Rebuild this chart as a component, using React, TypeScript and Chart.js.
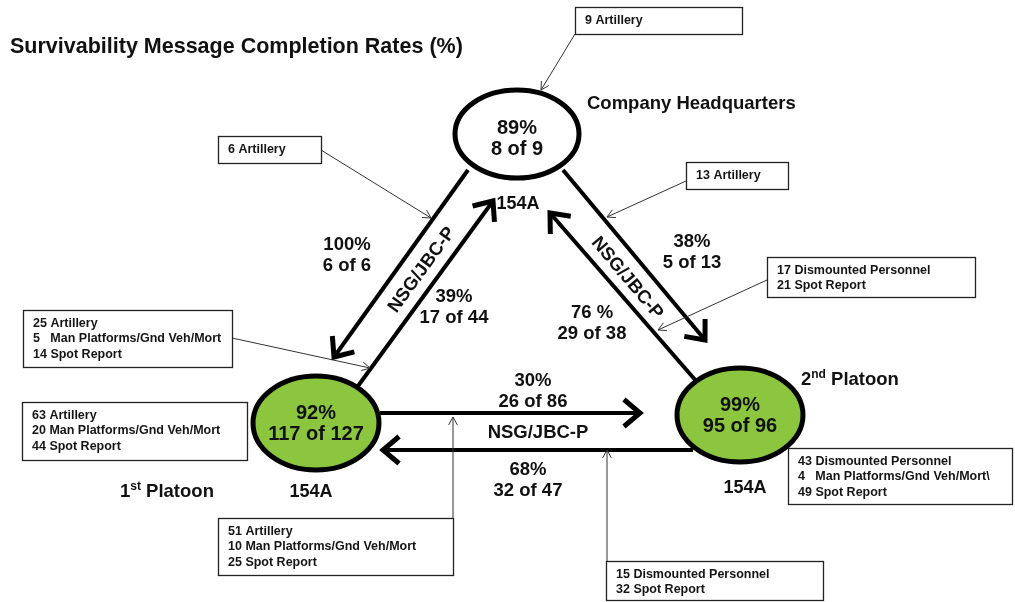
import React, { useEffect, useRef } from 'react';
import { Chart, registerables } from 'chart.js';

Chart.register(...registerables);

// ---------------- DATA ----------------
const TITLE = 'Survivability Message Completion Rates (%)';

const nodeNames = ['Company Headquarters', '1st Platoon', '2nd Platoon'];
const nodeRates = [89, 92, 99];
const nodeDone = [8, 117, 95];
const nodeTotal = [9, 127, 96];
const nodeCodes = ['154A', '154A', '154A'];

const linkFrom = [0, 1, 0, 2, 1, 2];
const linkTo = [1, 0, 2, 0, 2, 1];
const linkRateLabels = ['100%', '39%', '38%', '76 %', '30%', '68%'];
const linkDone = [6, 17, 5, 29, 26, 32];
const linkTotal = [6, 44, 13, 38, 86, 47];
const linkNetwork = 'NSG/JBC-P';

const noteLines: string[][] = [
  ['9 Artillery'],
  ['6 Artillery'],
  ['13 Artillery'],
  ['17 Dismounted Personnel', '21 Spot Report'],
  ['25 Artillery', '5   Man Platforms/Gnd Veh/Mort', '14 Spot Report'],
  ['63 Artillery', '20 Man Platforms/Gnd Veh/Mort', '44 Spot Report'],
  ['51 Artillery', '10 Man Platforms/Gnd Veh/Mort', '25 Spot Report'],
  ['15 Dismounted Personnel', '32 Spot Report'],
  ['43 Dismounted Personnel', '4   Man Platforms/Gnd Veh/Mort\\', '49 Spot Report'],
];

// ---------------- LAYOUT (diagram coordinates) ----------------
const W = 1015;
const H = 602;
const nodeCenters = [[517, 134], [316, 423], [740, 415]];
const nodeRadii = [[62, 44], [63, 47], [63, 47]];
const nodeFills = ['#ffffff', '#8cc63f', '#8cc63f'];
const nodeNamePos = [[587, 104], [120, 492], [801, 380]];
const nodeCodePos = [[518, 204], [311, 492], [745, 488]];
const linkPaths = [
  [468, 170, 334, 357],
  [358, 386, 493, 201],
  [563, 170, 705, 340],
  [697, 382, 550, 213],
  [380, 413, 640, 413],
  [693, 450, 383, 450],
];
const linkLabelPos = [[347, 245], [454, 297], [692, 242], [592, 313], [533, 381], [528, 470]];
const networkLabelPos = [[422, 270, -54], [627, 278, 50], [538, 433, 0]];
const noteBoxes = [
  [575, 7, 742, 34],
  [218, 136, 321, 163],
  [686, 162, 788, 189],
  [767, 257, 975, 297],
  [23, 310, 232, 367],
  [22, 402, 247, 460],
  [218, 518, 453, 575],
  [606, 561, 823, 600],
  [788, 448, 1012, 504],
];
const noteLeaders: (number[] | null)[] = [
  [575, 34, 541, 90],
  [321, 150, 431, 218],
  [686, 181, 607, 217],
  [767, 280, 658, 330],
  [232, 338, 370, 368],
  null,
  [453, 518, 453, 417],
  [607, 561, 607, 450],
  null,
];

const FONT = '"Liberation Sans", Arial, sans-serif';

function drawChevron(ctx: CanvasRenderingContext2D, x0: number, y0: number, x1: number, y1: number, len: number, ang: number, lw: number, color: string) {
  const a = Math.atan2(y1 - y0, x1 - x0);
  ctx.save();
  ctx.strokeStyle = color;
  ctx.lineWidth = lw;
  ctx.lineJoin = 'miter';
  ctx.lineCap = 'butt';
  ctx.beginPath();
  ctx.moveTo(x1 - len * Math.cos(a - ang), y1 - len * Math.sin(a - ang));
  ctx.lineTo(x1, y1);
  ctx.lineTo(x1 - len * Math.cos(a + ang), y1 - len * Math.sin(a + ang));
  ctx.stroke();
  ctx.restore();
}

const diagramPlugin = {
  id: 'diagram',
  afterDatasetsDraw(chart: any) {
    const ctx: CanvasRenderingContext2D = chart.ctx;
    const sx = chart.scales.x;
    const sy = chart.scales.y;
    const X = (v: number) => sx.getPixelForValue(v);
    const Y = (v: number) => sy.getPixelForValue(v);

    // arrowheads of links
    linkPaths.forEach((p) => {
      drawChevron(ctx, X(p[0]), Y(p[1]), X(p[2]), Y(p[3]), 21, 0.7, 5, '#000');
    });
    // arrowheads of leaders
    noteLeaders.forEach((p) => {
      if (!p) return;
      drawChevron(ctx, X(p[0]), Y(p[1]), X(p[2]), Y(p[3]), 9, 0.5, 1, '#333');
    });

    // nodes
    nodeCenters.forEach((c, i) => {
      const cx = X(c[0]);
      const cy = Y(c[1]);
      const rx = Math.abs(X(c[0] + nodeRadii[i][0]) - cx);
      const ry = Math.abs(Y(c[1] + nodeRadii[i][1]) - cy);
      ctx.save();
      ctx.beginPath();
      ctx.ellipse(cx, cy, rx, ry, 0, 0, Math.PI * 2);
      ctx.fillStyle = nodeFills[i];
      ctx.fill();
      ctx.lineWidth = 5;
      ctx.strokeStyle = '#000';
      ctx.stroke();
      ctx.fillStyle = '#111';
      ctx.font = `bold 20px ${FONT}`;
      ctx.textAlign = 'center';
      ctx.textBaseline = 'middle';
      const textTop = i === 0 ? -6 : -10;
      ctx.fillText(`${nodeRates[i]}%`, cx, cy + textTop);
      ctx.fillText(`${nodeDone[i]} of ${nodeTotal[i]}`, cx, cy + textTop + 21);
      ctx.restore();
    });

    // note boxes
    noteBoxes.forEach((b, i) => {
      const x0 = X(b[0]);
      const y0 = Y(b[1]);
      const x1 = X(b[2]);
      const y1 = Y(b[3]);
      ctx.save();
      ctx.fillStyle = '#fff';
      ctx.fillRect(x0, y0, x1 - x0, y1 - y0);
      ctx.strokeStyle = '#222';
      ctx.lineWidth = 1.3;
      ctx.strokeRect(x0 + 0.5, y0 + 0.5, x1 - x0, y1 - y0);
      ctx.fillStyle = '#151515';
      ctx.font = `bold 12.5px ${FONT}`;
      ctx.textAlign = 'left';
      ctx.textBaseline = 'middle';
      noteLines[i].forEach((t, k) => {
        ctx.fillText(t, x0 + 10, y0 + 13.5 + k * 15.5);
      });
      ctx.restore();
    });

    ctx.save();
    ctx.fillStyle = '#111';
    ctx.textBaseline = 'middle';

    // title
    ctx.font = `bold 21.5px ${FONT}`;
    ctx.textAlign = 'left';
    ctx.fillText(TITLE, X(10), Y(47));

    // node names
    nodeNames.forEach((name, i) => {
      const [x, y] = nodeNamePos[i];
      const m = name.match(/^(\d)(st|nd|rd|th)(.*)$/);
      if (m) {
        ctx.font = `bold 18.5px ${FONT}`;
        ctx.fillText(m[1], X(x), Y(y));
        let w = ctx.measureText(m[1]).width;
        ctx.font = `bold 12px ${FONT}`;
        ctx.fillText(m[2], X(x) + w, Y(y) - 5);
        w += ctx.measureText(m[2]).width;
        ctx.font = `bold 18.5px ${FONT}`;
        ctx.fillText(m[3], X(x) + w, Y(y));
      } else {
        ctx.font = `bold 18.5px ${FONT}`;
        ctx.fillText(name, X(x), Y(y));
      }
    });

    // node codes
    ctx.textAlign = 'center';
    ctx.font = `bold 18px ${FONT}`;
    nodeCodes.forEach((code, i) => {
      ctx.fillText(code, X(nodeCodePos[i][0]), Y(nodeCodePos[i][1]));
    });

    // link labels
    ctx.font = `bold 18.5px ${FONT}`;
    linkRateLabels.forEach((r, i) => {
      const [x, y] = linkLabelPos[i];
      ctx.fillText(r, X(x), Y(y));
      ctx.fillText(`${linkDone[i]} of ${linkTotal[i]}`, X(x), Y(y + 21));
    });

    // network labels
    networkLabelPos.forEach((p) => {
      ctx.save();
      ctx.translate(X(p[0]), Y(p[1]));
      ctx.rotate((p[2] * Math.PI) / 180);
      ctx.fillText(linkNetwork, 0, 0);
      ctx.restore();
    });
    ctx.restore();
  },
};

export default function App() {
  const ref = useRef<HTMLCanvasElement | null>(null);
  useEffect(() => {
    document.body.style.margin = '0';
    if (!ref.current) return;
    const linkSets = linkPaths.map((p, i) => ({
      label: `${nodeNames[linkFrom[i]]} → ${nodeNames[linkTo[i]]}`,
      data: [{ x: p[0], y: p[1] }, { x: p[2], y: p[3] }],
      showLine: true,
      borderColor: '#000',
      borderWidth: 4,
      pointRadius: 0,
      borderCapStyle: 'butt' as const,
    }));
    const leaderSets = noteLeaders
      .map((p, i) => ({ p, i }))
      .filter((o) => o.p)
      .map(({ p, i }) => ({
        label: noteLines[i][0],
        data: [{ x: p![0], y: p![1] }, { x: p![2], y: p![3] }],
        showLine: true,
        borderColor: '#333',
        borderWidth: 1,
        pointRadius: 0,
      }));
    const nodeSet = {
      label: 'nodes',
      data: nodeCenters.map((c) => ({ x: c[0], y: c[1] })),
      pointRadius: 0,
      showLine: false,
    };
    const chart = new Chart(ref.current, {
      type: 'scatter',
      data: { datasets: [...leaderSets, ...linkSets, nodeSet] as any },
      options: {
        animation: false,
        responsive: true,
        maintainAspectRatio: false,
        events: [],
        layout: { padding: 0 },
        plugins: { legend: { display: false }, tooltip: { enabled: false }, title: { display: false } },
        scales: {
          x: { type: 'linear', min: 0, max: W, display: false },
          y: { type: 'linear', min: 0, max: H, reverse: true, display: false },
        },
      },
      plugins: [diagramPlugin],
    });
    return () => chart.destroy();
  }, []);
  return (
    <div style={{ position: 'fixed', left: 0, top: 0, width: W, height: H, background: '#fff' }}>
      <canvas ref={ref} />
    </div>
  );
}
